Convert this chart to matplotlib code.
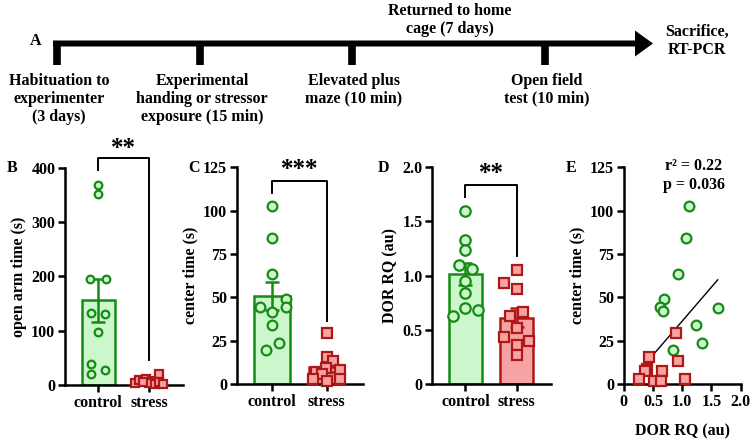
import numpy as np
import matplotlib
matplotlib.use('Agg')
import matplotlib.pyplot as plt

plt.rcParams['font.family'] = ['Liberation Serif', 'DejaVu Serif']
plt.rcParams['font.weight'] = 'bold'
plt.rcParams['axes.labelweight'] = 'bold'
plt.rcParams['font.size'] = 11

# ---- data ----
groups = ['control', 'stress']

# B: open arm time (s)
open_arm_control = [369, 352, 196, 196, 133, 130, 98, 38, 21, 28]
open_arm_stress = [4, 9, 11, 8, 3, 2, 21, 5, 1, 6]

# C: center time (s)
center_control = [102.7, 84.1, 63.6, 49.3, 44.5, 44.2, 41.5, 34.0, 23.6, 19.8]
center_stress = [29.5, 15.5, 13.0, 9.0, 8.0, 7.0, 6.0, 3.0, 3.0, 2.0]

# D: DOR RQ (au)
dor_control = [1.60, 1.33, 1.24, 1.10, 1.06, 0.95, 0.84, 0.70, 0.68, 0.63]
dor_stress = [1.05, 0.93, 0.88, 0.66, 0.63, 0.52, 0.43, 0.40, 0.36, 0.27]

# E: DOR RQ vs center time
e_dor_control = [1.11, 1.07, 0.93, 0.69, 0.62, 0.68, 1.61, 1.24, 1.33, 0.84]
e_center_control = [102.7, 84.1, 63.6, 49.3, 44.5, 41.9, 44.0, 34.0, 23.6, 19.8]
e_dor_stress = [0.89, 0.43, 0.93, 0.40, 0.37, 0.65, 0.26, 0.51, 0.64, 1.05]
e_center_stress = [29.2, 15.4, 13.0, 8.8, 7.3, 7.7, 3.1, 1.9, 1.9, 3.1]
fit_x = [0.285, 1.607]
fit_slope, fit_intercept = 39.2, -2.9

# timeline
stage_x = [57, 200, 352, 545]
stage_labels = ['Habituation to\nexperimenter\n(3 days)',
                'Experimental\nhanding or stressor\nexposure (15 min)',
                'Elevated plus\nmaze (10 min)',
                'Open field\ntest (10 min)']

# jitter of the points inside each bar (category units)
jit_b_c = [0, 0, -0.15, 0.15, -0.13, 0.13, 0, -0.13, -0.13, 0.13]
jit_b_s = [-0.27, -0.19, -0.06, 0.06, 0.0, 0.12, 0.2, 0.2, 0.27, -0.12]
jit_c_c = [0, 0, 0, 0.26, -0.23, 0.25, 0, 0, 0.13, -0.11]
jit_c_s = [0, 0, 0.11, -0.01, 0.24, -0.2, -0.08, -0.24, 0.24, 0]
jit_d_c = [0, 0, 0, -0.13, 0.13, 0, 0, 0, 0.25, -0.24]
jit_d_s = [0, -0.24, 0, 0.12, -0.12, 0, -0.24, 0.24, 0, 0]

green = '#148c14'
green_fill = '#ccf7cc'
red = '#b01818'
red_fill = '#f5a3a3'

fs = 11.5

fig = plt.figure(figsize=(7.55, 4.41), dpi=100)

# ---- panel A: timeline ----
axa = fig.add_axes([0, 0, 1, 1])
axa.set_xlim(0, 755)
axa.set_ylim(441, 0)
axa.axis('off')
axa.arrow(53, 43.5, 600, 0, width=6, head_width=26, head_length=18,
          length_includes_head=True, color='black', lw=0)
for x, lab in zip(stage_x, stage_labels):
    axa.plot([x, x], [43, 65], color='black', lw=5.5, solid_capstyle='butt')
    axa.text(x + 2, 73, lab, ha='center', va='top', fontsize=fs, linespacing=1.15)
axa.text(450, 3, 'Returned to home\ncage (7 days)', ha='center', va='top',
         fontsize=fs, linespacing=1.15)
axa.text(697, 24, 'Sacrifice,\nRT-PCR', ha='center', va='top',
         fontsize=fs, linespacing=1.15)
axa.text(36, 41, 'A', ha='center', va='center', fontsize=fs)


def style(ax, ylim, yticks, ylabels, ylab):
    for s in ['top', 'right']:
        ax.spines[s].set_visible(False)
    for s in ['left', 'bottom']:
        ax.spines[s].set_linewidth(1.8)
    ax.set_ylim(*ylim)
    ax.set_yticks(yticks)
    ax.set_yticklabels(ylabels)
    ax.tick_params(width=1.8, length=5, labelsize=fs, pad=2)
    ax.set_ylabel(ylab, fontsize=fs, labelpad=3)


def bar_panel(ax, ctrl, strs, jc, js, ms):
    for i, (vals, jit, ec, fc, mk) in enumerate(
            [(ctrl, jc, green, green_fill, 'o'), (strs, js, red, red_fill, 's')]):
        vals = np.array(vals)
        m = vals.mean()
        sem = vals.std(ddof=1) / np.sqrt(len(vals))
        ax.bar(i, m, width=0.65, color=fc, edgecolor=ec, linewidth=1.8, zorder=2)
        ax.errorbar(i, m, yerr=sem, color=ec, capsize=5, elinewidth=1.8,
                    capthick=1.8, zorder=3)
        ax.plot(i + np.array(jit), vals, mk, ms=ms, mfc=fc, mec=ec, mew=1.6,
                zorder=4, clip_on=False)
    ax.set_xlim(-0.65, 1.67)
    ax.set_xticks([0, 1])
    ax.set_xticklabels(groups, fontsize=fs)


def bracket(ax, y, yl, yr, stars, ty):
    ax.plot([0, 0, 1, 1], [yl, y, y, yr], color='black', lw=1.4,
            clip_on=False, zorder=5)
    ax.text(0.5, ty, stars, ha='center', va='center', fontsize=18, clip_on=False)


# ---- B ----
axb = fig.add_axes([0.0861, 0.127, 0.1563, 0.4927])
bar_panel(axb, open_arm_control, open_arm_stress, jit_b_c, jit_b_s, 5.5)
style(axb, (0, 400), [0, 100, 200, 300, 400], ['0', '100', '200', '300', '400'],
      'open arm time (s)')
bracket(axb, 418, 396, 46, '**', 436)
fig.text(0.016, 0.62, 'B', ha='center', va='center', fontsize=fs)

# ---- C ----
axc = fig.add_axes([0.3135, 0.1293, 0.1673, 0.4913])
bar_panel(axc, center_control, center_stress, jit_c_c, jit_c_s, 7)
style(axc, (0, 125), [0, 25, 50, 75, 100, 125], ['0', '25', '50', '75', '100', '125'],
      'center time (s)')
bracket(axc, 117, 110, 36.5, '***', 123.5)
fig.text(0.257, 0.62, 'C', ha='center', va='center', fontsize=fs)

# ---- D ----
axd = fig.add_axes([0.5726, 0.1293, 0.1568, 0.4913])
bar_panel(axd, dor_control, dor_stress, jit_d_c, jit_d_s, 7.5)
style(axd, (0, 2.0), [0, 0.5, 1.0, 1.5, 2.0], ['0', '0.5', '1.0', '1.5', '2.0'],
      'DOR RQ (au)')
bracket(axd, 1.84, 1.73, 1.18, '**', 1.94)
fig.text(0.508, 0.62, 'D', ha='center', va='center', fontsize=fs)

# ---- E ----
axe = fig.add_axes([0.8261, 0.1293, 0.155, 0.4913])
fx = np.array(fit_x)
axe.plot(fx, fit_slope * fx + fit_intercept, color='black', lw=1.0, zorder=2)
axe.plot(e_dor_control, e_center_control, 'o', ms=7, mfc=green_fill, mec=green,
         mew=1.6, zorder=3, clip_on=False)
axe.plot(e_dor_stress, e_center_stress, 's', ms=7, mfc=red_fill, mec=red,
         mew=1.6, zorder=3, clip_on=False)
style(axe, (0, 125), [0, 25, 50, 75, 100, 125], ['0', '25', '50', '75', '100', '125'],
      'center time (s)')
axe.set_xlim(0, 2.0)
axe.set_xticks([0, 0.5, 1.0, 1.5, 2.0])
axe.set_xticklabels(['0', '0.5', '1.0', '1.5', '2.0'])
axe.set_xlabel('DOR RQ (au)', fontsize=fs, labelpad=10)
axe.text(1.2, 120.5, 'r\u00b2 = 0.22\np = 0.036', ha='center', va='center',
         fontsize=fs, linespacing=1.25)
fig.text(0.757, 0.62, 'E', ha='center', va='center', fontsize=fs)

fig.savefig('out.png', dpi=100)
